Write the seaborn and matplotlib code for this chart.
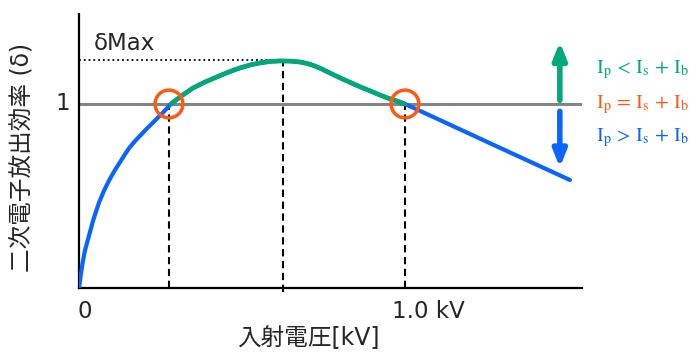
import numpy as np
import pandas as pd
import matplotlib
matplotlib.use("Agg")
import matplotlib.pyplot as plt
import seaborn as sns

# curve (x in kV, y = delta)
voltage = [0, 0.005, 0.011, 0.018, 0.027, 0.035, 0.042, 0.052, 0.062, 0.077,
           0.093, 0.108, 0.124, 0.139, 0.154, 0.172, 0.190, 0.208, 0.226,
           0.241, 0.256, 0.269, 0.282, 0.316, 0.350, 0.386, 0.423, 0.458,
           0.494, 0.525, 0.555, 0.586, 0.617, 0.648, 0.678, 0.698, 0.718,
           0.745, 0.770, 0.796, 0.822, 0.846, 0.871, 0.897, 0.923, 0.949,
           0.975, 1.0, 1.086, 1.291, 1.506]
delta = [0, 0.066, 0.136, 0.202, 0.261, 0.312, 0.359, 0.415, 0.467, 0.530,
         0.587, 0.634, 0.679, 0.721, 0.761, 0.799, 0.832, 0.866, 0.897,
         0.924, 0.950, 0.975, 1.0, 1.046, 1.087, 1.119, 1.147, 1.173,
         1.196, 1.212, 1.223, 1.231, 1.234, 1.233, 1.228, 1.221, 1.210,
         1.190, 1.168, 1.146, 1.125, 1.106, 1.087, 1.068, 1.049, 1.031,
         1.016, 1.0, 0.930, 0.762, 0.587]
cross_points = [0.276, 1.0]
peak_x = 0.626
peak_y = 1.240
labels = [r"$\mathrm{I_p}\,<\,\mathrm{I_s}\,+\,\mathrm{I_b}$",
          r"$\mathrm{I_p}\,=\,\mathrm{I_s}\,+\,\mathrm{I_b}$",
          r"$\mathrm{I_p}\,>\,\mathrm{I_s}\,+\,\mathrm{I_b}$"]

BLUE = "#0A64FF"
GREEN = "#00A87A"
ORANGE = "#FF5A14"
GRAY = "#858585"

sns.set_style("white")
plt.rcParams['font.family'] = ['DejaVu Sans', 'Noto Sans CJK JP']
plt.rcParams['mathtext.fontset'] = 'stix'

df = pd.DataFrame({'V': voltage, 'd': delta})
green = df[(df.V >= 0.28) & (df.V <= 1.0)]

fig = plt.figure(figsize=(6.96, 3.61), dpi=100)
ax = fig.add_axes([79/696, 73/361, 503/696, 274/361])
ax.set_xlim(0, 1.543)
ax.set_ylim(0, 1.489)

ax.axhline(1, color=GRAY, lw=2.2, zorder=1)
sns.lineplot(data=df, x='V', y='d', color=BLUE, lw=3, ax=ax, zorder=3)
sns.lineplot(data=green, x='V', y='d', color=GREEN, lw=3.4, ax=ax, zorder=4)

# guide lines
dash = (0, (3.5, 2.2))
for xc in cross_points:
    ax.plot([xc, xc], [0, 1], color='black', lw=1.5, ls=dash, zorder=2)
ax.plot([peak_x, peak_x], [-0.02, peak_y], color='black', lw=1.5,
        ls=dash, zorder=2, clip_on=False)
ax.plot([0, peak_x], [peak_y, peak_y], color='black', lw=1.3, ls=':', zorder=2)

ax.scatter(cross_points, [1, 1], s=400, facecolors='none', edgecolors=ORANGE,
           linewidths=2.5, zorder=6)

# arrows
ax.annotate('', xy=(1.475, 1.337), xytext=(1.475, 1.020),
            arrowprops=dict(arrowstyle='-|>,head_width=0.4,head_length=1.0',
                            color=GREEN, lw=4, shrinkA=0, shrinkB=0))
ax.annotate('', xy=(1.475, 0.655), xytext=(1.475, 0.960),
            arrowprops=dict(arrowstyle='-|>,head_width=0.4,head_length=1.0',
                            color=BLUE, lw=4, shrinkA=0, shrinkB=0))

for lab, yy, c in zip(labels, [1.185, 0.995, 0.815], [GREEN, ORANGE, BLUE]):
    ax.text(1.585, yy, lab, color=c, fontsize=14.5, va='center', ha='left',
            clip_on=False)

ax.text(0.045, 1.33, "δMax", fontsize=16.5, va='center', ha='left')
ax.text(-0.028, 1.0, "1", fontsize=16.5, va='center', ha='right', clip_on=False)
ax.text(0.018, -0.13, "0", fontsize=16.5, va='center', ha='center', clip_on=False)
ax.text(0.96, -0.13, "1.0 kV", fontsize=16.5, va='center', ha='left', clip_on=False)

ax.set_xticks([])
ax.set_yticks([])
ax.set_xlabel("")
ax.set_ylabel("")
fig.text(308/696, 1 - 338/361, "入射電圧[kV]", fontsize=17, ha='center', va='center')
fig.text(22/696, 1 - 157/361, "二次電子放出効率 (δ)", fontsize=17, ha='center',
         va='center', rotation=90)

sns.despine(ax=ax)
for s in ['left', 'bottom']:
    ax.spines[s].set_color('black')
    ax.spines[s].set_linewidth(1.6)

fig.savefig("out.png", dpi=100)
